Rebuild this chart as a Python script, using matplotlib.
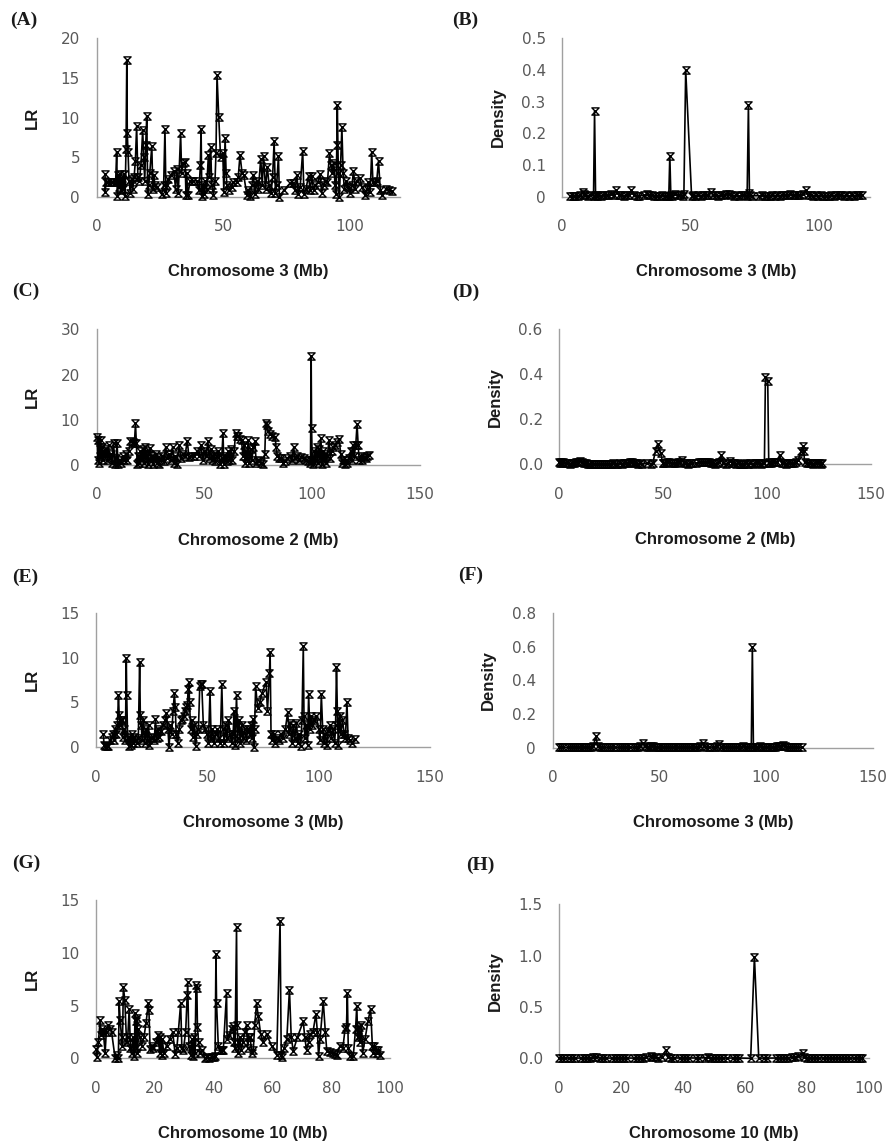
import matplotlib
matplotlib.use('Agg')
import matplotlib.pyplot as plt
from matplotlib.path import Path

plt.rcParams['font.family'] = ['DejaVu Sans']

# ---------------- data ----------------
# (A) LR, chromosome 3
a_x = [3.3, 3.4, 3.6, 4.5, 5.5, 6.5, 7.5, 7.9, 8.2, 8.5,
       8.9, 9.3, 9.6, 10.0, 10.4, 10.8, 11.2, 11.6, 11.9, 12.1,
       12.4, 12.8, 13.3, 13.8, 14.3, 14.8, 15.3, 15.8, 16.3, 16.9,
       17.5, 18.2, 18.6, 19.0, 19.4, 19.8, 20.2, 20.6, 21.0, 21.8,
       22.2, 22.6, 23.0, 23.8, 25.7, 26.5, 27.0, 27.4, 28.0, 28.4,
       29.5, 30.5, 31.2, 31.7, 32.3, 33.2, 33.6, 34.2, 35.0, 35.3,
       35.6, 36.0, 37.0, 38.0, 39.6, 40.5, 41.0, 41.3, 41.6, 42.0,
       42.5, 43.0, 43.5, 44.2, 44.6, 45.1, 45.5, 46.2, 46.8, 47.2,
       47.6, 48.3, 49.0, 49.9, 50.3, 50.8, 51.2, 51.5, 52.2, 53.4,
       54.0, 55.4, 56.0, 56.7, 57.5, 58.2, 59.4, 60.0, 60.7, 61.4,
       62.0, 62.6, 63.3, 64.0, 64.9, 65.5, 66.0, 66.8, 67.5, 68.2,
       69.0, 69.6, 70.2, 70.7, 71.2, 71.9, 72.3, 74.0, 76.5, 77.8,
       78.5, 79.2, 79.8, 80.5, 81.5, 82.0, 82.8, 83.8, 84.5, 85.1,
       85.8, 86.5, 87.5, 88.4, 89.0, 89.8, 90.5, 91.3, 92.1, 92.6,
       93.2, 93.8, 94.3, 94.7, 95.0, 95.2, 95.6, 96.0, 96.5, 97.0,
       97.5, 98.0, 98.8, 99.5, 100.3, 101.0, 101.6, 102.3, 103.0, 104.0,
       105.0, 106.2, 107.0, 107.5, 108.2, 108.8, 109.3, 110.0, 110.8, 111.5,
       112.2, 113.0, 114.5, 115.5, 116.8]
a_y = [2.9, 0.6, 1.8, 1.9, 1.8, 1.8, 1.9, 5.7, 0.1, 2.8,
       1.2, 2.9, 0.8, 2.4, 1.0, 2.9, 0.1, 6.0, 17.3, 8.0,
       5.6, 2.0, 0.5, 2.2, 1.0, 2.5, 4.5, 8.9, 2.5, 2.0,
       4.0, 8.4, 5.0, 2.0, 6.5, 10.2, 0.3, 1.5, 3.0, 6.4,
       1.0, 2.8, 1.5, 1.2, 0.3, 1.5, 8.6, 0.5, 1.5, 2.2,
       2.8, 3.3, 1.0, 3.5, 0.5, 8.0, 3.0, 4.2, 4.4, 0.2,
       3.0, 0.2, 2.0, 2.0, 2.0, 0.8, 4.0, 8.6, 0.1, 1.5,
       0.3, 2.0, 1.0, 5.3, 2.5, 6.3, 1.5, 0.2, 2.0, 5.5,
       15.4, 10.0, 5.0, 5.5, 0.6, 7.4, 3.0, 1.5, 0.8, 1.2,
       1.9, 1.9, 2.5, 5.3, 3.0, 2.7, 0.2, 0.8, 0.1, 1.5,
       2.8, 0.3, 2.0, 1.0, 4.8, 1.5, 5.1, 1.0, 3.8, 1.5,
       0.5, 2.5, 7.0, 0.5, 1.5, 5.1, 0.0, 0.8, 1.7, 1.7,
       0.8, 2.8, 0.3, 1.2, 5.8, 0.3, 1.0, 2.6, 0.8, 2.6,
       0.8, 1.5, 1.8, 2.9, 0.5, 1.5, 2.0, 1.8, 5.5, 4.0,
       3.0, 4.2, 1.5, 0.3, 6.5, 11.6, 3.0, 0.0, 4.0, 8.8,
       3.0, 1.0, 2.0, 1.2, 0.5, 1.5, 3.2, 1.0, 2.0, 2.4,
       1.2, 0.2, 1.0, 1.9, 0.6, 5.6, 1.8, 1.8, 2.0, 4.5,
       0.8, 0.2, 1.0, 0.9, 0.7]

# (B) Density, chromosome 3
b_x = [3, 4, 5, 6, 7, 8, 8.5, 9, 10, 11,
       12.2, 12.6, 13.0, 13.5, 14, 15, 16, 17, 18, 19,
       20, 21, 22, 23, 24, 25, 26, 27, 28, 29,
       30, 32, 33, 34, 35, 36, 37, 38, 39, 40,
       41, 41.6, 42, 42.4, 43, 44, 45, 46, 47, 47.5,
       48.2, 50.5, 51, 52, 53, 54, 55, 56, 57, 58,
       59, 60, 61, 62, 63, 64, 65, 66, 67, 68,
       69, 70, 71, 72.2, 72.7, 73.1, 73.5, 74, 77, 78,
       79, 80, 81, 82, 83, 84, 85, 86, 87, 88,
       89, 90, 91, 92, 93, 94, 95, 96, 97, 98,
       99, 100, 101, 102, 103, 104, 105, 106, 107, 108,
       109, 110, 111, 112, 113, 114, 115, 116, 117]
b_y = [0.003, 0.002, 0.003, 0.002, 0.004, 0.015, 0.010, 0.005, 0.003, 0.004,
       0.003, 0.270, 0.004, 0.003, 0.004, 0.003, 0.005, 0.004, 0.006, 0.008,
       0.005, 0.020, 0.006, 0.004, 0.003, 0.004, 0.005, 0.020, 0.004, 0.003,
       0.003, 0.004, 0.008, 0.005, 0.004, 0.003, 0.002, 0.003, 0.004, 0.003,
       0.002, 0.003, 0.130, 0.004, 0.003, 0.008, 0.006, 0.004, 0.003, 0.010,
       0.400, 0.003, 0.004, 0.003, 0.004, 0.003, 0.005, 0.004, 0.006, 0.015,
       0.005, 0.004, 0.003, 0.004, 0.006, 0.008, 0.007, 0.004, 0.003, 0.004,
       0.003, 0.004, 0.005, 0.003, 0.290, 0.012, 0.004, 0.003, 0.003, 0.004,
       0.003, 0.002, 0.003, 0.004, 0.003, 0.004, 0.003, 0.005, 0.004, 0.006,
       0.007, 0.006, 0.005, 0.004, 0.006, 0.008, 0.020, 0.006, 0.004, 0.003,
       0.004, 0.003, 0.004, 0.003, 0.002, 0.003, 0.004, 0.003, 0.004, 0.005,
       0.004, 0.003, 0.004, 0.003, 0.004, 0.003, 0.004, 0.005, 0.006]

# (C) LR, chromosome 2
c_x = [0.2, 0.5, 0.8, 1.1, 1.4, 1.8, 2.2, 2.6, 3.0, 3.5,
       4.0, 4.5, 5.0, 5.5, 6.0, 6.5, 7.0, 7.8, 8.5, 9.0,
       9.4, 10.0, 10.8, 11.5, 12.2, 12.8, 13.5, 14.2, 14.8, 15.6,
       16.9, 17.5, 18.0, 18.4, 18.8, 19.3, 19.8, 20.3, 20.8, 21.3,
       21.8, 22.3, 22.8, 23.3, 23.8, 24.3, 24.8, 25.3, 25.8, 26.3,
       26.8, 27.3, 27.8, 28.3, 29.0, 29.7, 30.5, 31.2, 32.0, 32.8,
       33.5, 34.3, 35.2, 35.8, 36.5, 37.2, 38.3, 39.0, 40.0, 41.0,
       42.0, 42.8, 43.8, 45.3, 46.5, 47.5, 48.4, 49.2, 50.0, 50.8,
       51.6, 52.2, 52.8, 53.5, 54.2, 55.0, 55.8, 56.5, 57.3, 58.0,
       58.6, 59.0, 59.6, 60.3, 61.0, 61.6, 62.2, 63.0, 63.8, 64.4,
       65.0, 65.6, 66.4, 67.2, 67.8, 68.4, 68.8, 69.3, 69.8, 70.3,
       70.8, 71.4, 72.0, 72.7, 73.4, 74.0, 74.8, 75.5, 76.3, 77.3,
       78.0, 78.4, 78.8, 79.5, 80.5, 81.5, 82.8, 83.2, 83.8, 84.5,
       85.5, 86.5, 87.5, 88.5, 89.5, 90.5, 91.4, 92.0, 93.0, 94.0,
       95.0, 96.0, 97.0, 98.0, 98.8, 99.2, 99.5, 99.7, 100.0, 100.5,
       101.0, 101.5, 102.0, 102.5, 103.0, 103.5, 104.0, 104.5, 105.0, 105.5,
       106.0, 106.5, 107.0, 107.8, 108.4, 109.0, 109.8, 110.6, 111.5, 112.5,
       113.2, 113.8, 114.4, 115.0, 115.6, 116.2, 117.0, 117.8, 118.3, 118.8,
       119.5, 120.2, 120.8, 121.3, 121.8, 122.5, 123.2, 124.0, 124.8, 125.5,
       126.5]
c_y = [6.3, 1.0, 5.5, 0.5, 3.5, 5.5, 2.0, 4.0, 1.2, 3.0,
       2.0, 3.5, 1.0, 4.4, 1.5, 2.5, 0.5, 4.8, 0.3, 1.5,
       4.8, 0.3, 1.0, 0.5, 2.0, 1.0, 2.5, 1.2, 3.0, 5.2,
       5.0, 4.8, 9.2, 4.8, 0.3, 2.0, 0.5, 3.0, 1.0, 3.5,
       0.5, 4.0, 1.5, 3.0, 0.3, 2.5, 3.8, 0.8, 2.0, 0.3,
       1.5, 2.5, 0.5, 1.8, 0.3, 1.2, 2.0, 0.8, 4.0, 1.5,
       2.5, 1.0, 4.0, 0.5, 2.0, 0.3, 4.4, 1.5, 2.5, 2.0,
       5.4, 1.8, 2.0, 2.0, 3.0, 2.0, 4.4, 1.0, 3.0, 2.0,
       5.2, 1.5, 3.5, 1.0, 2.5, 0.8, 2.0, 3.0, 0.3, 1.5,
       7.0, 0.2, 2.0, 0.8, 3.0, 1.0, 3.5, 1.0, 3.0, 7.0,
       6.5, 6.4, 5.8, 5.5, 2.0, 4.5, 0.5, 3.0, 1.5, 5.5,
       0.5, 3.5, 1.0, 4.0, 5.2, 0.5, 1.0, 0.8, 0.5, 0.2,
       2.5, 9.2, 8.8, 7.5, 6.8, 6.5, 6.3, 4.0, 2.0, 1.5,
       1.5, 0.5, 0.8, 1.5, 2.0, 1.0, 3.9, 1.5, 2.0, 1.0,
       1.8, 1.5, 1.2, 0.8, 0.5, 1.0, 24.1, 8.1, 1.0, 0.2,
       3.0, 1.0, 4.0, 0.5, 3.5, 1.5, 5.9, 0.3, 3.0, 1.0,
       2.5, 0.5, 2.0, 5.5, 1.5, 3.0, 4.0, 4.5, 5.0, 5.7,
       2.5, 0.5, 1.0, 0.3, 1.0, 0.5, 1.5, 3.0, 1.0, 4.4,
       2.0, 4.5, 9.0, 4.5, 1.0, 2.0, 1.0, 1.8, 1.5, 2.0,
       2.2]

# (D) Density, chromosome 2
d_x = [0, 0.5, 1, 1.5, 2, 3, 4, 5, 6, 7,
       8, 9, 10, 11, 12, 13, 14, 15, 16, 17,
       18, 19, 20, 21, 22, 23, 24, 25, 26, 27,
       28, 29, 30, 31, 32, 33, 34, 35, 36, 37,
       38, 39, 40, 42, 44, 45, 46.3, 47.3, 48.8, 49.8,
       50, 51, 52, 53, 54, 55, 56, 57, 58, 59,
       60, 61, 62, 63, 64, 66, 67, 68, 69, 70,
       71, 72, 73, 74, 75, 76, 77, 78, 79, 80,
       81, 82, 83, 84, 85, 86, 87, 88, 89, 90,
       91, 92, 93, 94, 95, 96, 97, 98, 98.7, 99.2,
       100.3, 100.8, 101, 102, 103, 104, 105, 106, 107, 108,
       109, 110, 111, 112, 113, 114, 115, 116.5, 117.2, 117.7,
       118, 119, 120, 121, 122, 123, 124, 125, 126, 126.5]
d_y = [0.010, 0.004, 0.012, 0.005, 0.008, 0.005, 0.004, 0.003, 0.004, 0.006,
       0.008, 0.012, 0.015, 0.008, 0.005, 0.004, 0.003, 0.003, 0.002, 0.003,
       0.002, 0.003, 0.002, 0.003, 0.002, 0.003, 0.002, 0.003, 0.004, 0.003,
       0.003, 0.004, 0.003, 0.004, 0.005, 0.006, 0.010, 0.008, 0.005, 0.004,
       0.003, 0.004, 0.003, 0.004, 0.003, 0.005, 0.060, 0.090, 0.050, 0.005,
       0.004, 0.006, 0.008, 0.010, 0.005, 0.004, 0.006, 0.008, 0.012, 0.020,
       0.005, 0.004, 0.003, 0.004, 0.005, 0.006, 0.008, 0.010, 0.012, 0.010,
       0.008, 0.010, 0.006, 0.004, 0.003, 0.005, 0.012, 0.040, 0.005, 0.003,
       0.004, 0.015, 0.005, 0.004, 0.003, 0.004, 0.003, 0.002, 0.003, 0.004,
       0.003, 0.004, 0.003, 0.004, 0.005, 0.004, 0.003, 0.005, 0.006, 0.390,
       0.370, 0.005, 0.008, 0.006, 0.010, 0.008, 0.012, 0.040, 0.006, 0.004,
       0.003, 0.004, 0.005, 0.004, 0.006, 0.010, 0.020, 0.060, 0.080, 0.060,
       0.010, 0.006, 0.005, 0.004, 0.003, 0.004, 0.005, 0.004, 0.003, 0.004]

# (E) LR, chromosome 3
e_x = [3.3, 3.6, 4.0, 4.8, 5.6, 6.5, 7.2, 7.8, 8.2, 8.6,
       9.2, 9.6, 10.1, 10.4, 10.8, 11.2, 11.6, 12.0, 12.6, 13.2,
       13.6, 13.8, 14.2, 14.6, 15.0, 15.5, 16.0, 16.5, 16.9, 17.5,
       18.2, 19.0, 19.6, 19.9, 20.3, 20.7, 21.2, 21.8, 22.5, 23.0,
       23.6, 24.0, 24.8, 25.5, 26.2, 26.7, 27.2, 27.8, 28.4, 29.0,
       30.0, 31.0, 31.6, 32.3, 32.8, 33.4, 34.0, 34.6, 35.2, 35.6,
       36.0, 36.7, 37.3, 38.0, 38.7, 39.4, 40.0, 40.5, 41.0, 41.4,
       41.7, 42.0, 42.5, 43.0, 43.5, 44.0, 44.7, 45.3, 46.0, 46.6,
       47.0, 47.5, 48.2, 49.0, 49.8, 50.5, 51.2, 51.7, 52.3, 53.0,
       53.8, 54.5, 55.2, 55.8, 56.5, 57.0, 57.6, 58.2, 58.8, 59.5,
       60.2, 61.0, 61.6, 62.0, 62.5, 63.1, 63.6, 64.2, 64.8, 65.4,
       66.0, 66.8, 67.5, 68.2, 69.0, 69.6, 70.0, 70.5, 70.8, 71.2,
       71.7, 72.6, 73.5, 74.5, 76.4, 77.0, 77.9, 78.2, 78.6, 79.2,
       79.8, 80.5, 81.2, 82.0, 83.0, 84.0, 85.0, 86.1, 86.7, 87.3,
       88.0, 88.6, 89.3, 90.0, 90.6, 91.3, 91.9, 92.5, 93.1, 93.4,
       93.8, 94.4, 95.0, 95.5, 96.0, 96.6, 97.2, 98.0, 99.0, 100.0,
       100.6, 101.2, 101.8, 102.4, 103.0, 103.7, 104.3, 105.0, 105.7, 106.4,
       107.2, 107.6, 108.0, 108.4, 108.8, 109.4, 110.0, 110.7, 111.5, 112.0,
       112.7, 113.2, 114.0, 115.0, 116.3]
e_y = [1.5, 0.3, 0.1, 0.1, 0.2, 0.8, 1.2, 1.5, 0.8, 2.0,
       1.5, 2.5, 5.8, 3.6, 2.5, 3.0, 3.0, 1.2, 2.0, 0.8,
       9.9, 5.8, 1.0, 0.2, 1.2, 0.3, 1.5, 0.5, 1.2, 0.8,
       0.5, 1.0, 9.5, 3.6, 2.5, 0.8, 3.0, 0.5, 2.0, 0.8,
       2.5, 0.3, 1.0, 1.2, 0.8, 3.2, 1.0, 2.0, 1.2, 1.8,
       2.5, 3.0, 3.8, 2.0, 0.0, 2.5, 1.5, 4.0, 6.0, 4.5,
       1.5, 0.5, 2.0, 3.0, 3.2, 3.5, 4.0, 4.5, 4.7, 6.5,
       7.3, 5.0, 2.0, 3.0, 1.2, 2.5, 0.2, 1.5, 2.0, 6.8,
       7.1, 7.0, 2.5, 2.0, 1.5, 0.5, 6.3, 1.0, 2.0, 0.5,
       1.5, 2.0, 1.0, 0.5, 7.0, 2.0, 0.5, 2.5, 1.0, 3.0,
       1.5, 0.5, 1.5, 4.1, 0.3, 5.8, 1.0, 3.0, 0.5, 2.5,
       1.0, 2.0, 0.8, 2.0, 1.5, 2.5, 1.0, 3.2, 0.0, 2.0,
       6.8, 4.4, 5.0, 6.0, 7.3, 4.0, 8.3, 10.6, 1.5, 0.8,
       1.5, 0.5, 1.0, 0.8, 1.5, 1.0, 2.0, 3.9, 1.5, 2.7,
       0.5, 2.5, 1.0, 2.7, 0.5, 1.5, 0.2, 3.0, 11.3, 3.5,
       1.0, 2.5, 0.3, 5.9, 2.0, 3.5, 2.5, 3.0, 3.5, 2.0,
       0.8, 5.9, 2.0, 0.5, 1.5, 0.3, 1.8, 2.5, 1.0, 2.0,
       0.5, 2.5, 9.0, 4.0, 0.3, 3.5, 1.5, 3.0, 1.5, 1.0,
       5.1, 1.0, 0.8, 0.5, 0.9]

# (F) Density, chromosome 3
f_x = [3, 4, 5, 7, 8, 9, 10, 11, 12, 13,
       14, 15, 16, 17, 18, 19, 20.3, 21, 22, 23,
       24, 26, 27, 28, 29, 31, 32, 33, 34, 35,
       36, 38, 39, 40, 41, 42.1, 43, 44, 45, 46,
       47, 48, 49, 50, 51, 52, 53, 54, 55, 56,
       57, 58, 59, 60, 61, 62, 63, 64, 65, 66,
       67, 68, 69, 70.3, 71, 72, 73, 75, 76, 77,
       77.9, 79, 80, 81, 82, 83, 84, 85, 86, 87,
       88, 89, 90, 91, 92, 93, 93.5, 94, 95, 96,
       97, 98, 99, 100, 101, 102, 103, 104, 105, 106,
       107, 108, 109, 110, 111, 112, 113, 114, 115, 116.6]
f_y = [0.002, 0.002, 0.002, 0.002, 0.002, 0.003, 0.002, 0.003, 0.002, 0.003,
       0.002, 0.003, 0.002, 0.003, 0.004, 0.010, 0.070, 0.008, 0.004, 0.003,
       0.002, 0.002, 0.003, 0.002, 0.003, 0.002, 0.002, 0.003, 0.002, 0.003,
       0.002, 0.003, 0.004, 0.006, 0.010, 0.030, 0.010, 0.005, 0.006, 0.008,
       0.012, 0.006, 0.004, 0.003, 0.002, 0.003, 0.002, 0.003, 0.002, 0.002,
       0.003, 0.002, 0.003, 0.002, 0.003, 0.002, 0.002, 0.003, 0.002, 0.003,
       0.004, 0.005, 0.008, 0.030, 0.008, 0.005, 0.004, 0.003, 0.005, 0.008,
       0.020, 0.005, 0.004, 0.003, 0.004, 0.003, 0.004, 0.005, 0.004, 0.005,
       0.006, 0.008, 0.006, 0.005, 0.004, 0.005, 0.600, 0.005, 0.004, 0.006,
       0.008, 0.006, 0.004, 0.003, 0.005, 0.004, 0.003, 0.006, 0.008, 0.010,
       0.012, 0.015, 0.010, 0.006, 0.004, 0.003, 0.004, 0.003, 0.002, 0.003]

# (G) LR, chromosome 10
g_x = [0.0, 0.3, 0.8, 1.4, 1.7, 2.1, 2.5, 3.1, 3.5, 4.2,
       4.7, 5.3, 6.5, 7.0, 7.6, 7.9, 8.2, 8.7, 9.0, 9.3,
       9.8, 10.4, 10.8, 11.3, 11.7, 12.1, 12.5, 13.0, 13.3, 13.5,
       13.7, 13.9, 14.1, 14.4, 15.0, 15.5, 16.3, 17.0, 17.8, 18.0,
       18.4, 19.0, 19.5, 20.3, 21.2, 21.6, 21.9, 22.3, 22.6, 23.0,
       24.0, 25.0, 26.1, 26.9, 27.5, 28.0, 28.8, 29.2, 29.7, 30.5,
       31.0, 31.2, 31.6, 32.2, 32.6, 33.0, 33.4, 33.7, 34.0, 34.3,
       34.5, 34.9, 35.4, 36.2, 37.0, 37.8, 38.6, 39.3, 40.0, 40.5,
       40.8, 41.0, 41.6, 42.2, 42.7, 43.3, 44.4, 44.6, 45.3, 46.1,
       46.6, 47.0, 47.3, 47.8, 48.0, 48.4, 48.9, 49.4, 50.0, 50.6,
       51.2, 51.6, 52.0, 52.4, 53.0, 53.5, 54.0, 54.6, 55.2, 56.0,
       56.8, 58.0, 59.7, 61.5, 62.6, 63.0, 63.2, 64.0, 64.9, 65.8,
       66.4, 67.1, 68.5, 70.5, 71.0, 71.6, 72.3, 72.8, 73.8, 74.8,
       75.3, 75.7, 76.2, 77.3, 78.0, 78.5, 79.5, 80.5, 81.3, 81.9,
       83.0, 84.0, 84.7, 85.2, 85.5, 85.8, 86.4, 87.5, 88.3, 88.7,
       89.0, 89.4, 89.8, 90.3, 90.7, 91.5, 92.5, 93.4, 94.0, 94.3,
       94.7, 95.2, 95.6, 96.0, 96.6]
g_y = [0.9, 0.1, 1.5, 3.6, 2.2, 2.8, 2.5, 0.5, 2.5, 3.2,
       2.8, 2.5, 0.0, 0.3, 0.0, 5.4, 3.6, 2.0, 1.2, 6.8,
       5.5, 1.5, 2.0, 4.7, 1.0, 0.5, 2.0, 0.2, 4.3, 3.5,
       1.0, 3.8, 0.5, 2.8, 2.0, 1.2, 2.0, 3.3, 5.2, 4.6,
       0.9, 1.2, 1.0, 1.5, 2.2, 0.5, 2.0, 0.3, 1.8, 0.5,
       1.2, 1.8, 2.5, 0.4, 1.0, 2.5, 5.2, 1.0, 0.8, 2.5,
       6.0, 7.2, 1.2, 0.3, 1.8, 0.2, 2.0, 0.5, 6.9, 6.7,
       3.0, 1.5, 0.5, 0.8, 0.0, 0.1, 0.0, 0.1, 0.1, 0.2,
       9.9, 5.2, 1.2, 0.8, 0.8, 0.8, 6.2, 1.8, 2.2, 2.8,
       3.1, 1.5, 1.0, 12.4, 3.2, 0.5, 2.0, 0.8, 1.5, 2.5,
       3.2, 1.0, 2.0, 2.0, 0.5, 0.8, 3.2, 5.2, 4.0, 2.3,
       1.5, 2.3, 1.2, 0.3, 13.0, 0.3, 0.1, 1.0, 1.8, 6.5,
       2.0, 0.7, 2.0, 3.5, 2.0, 0.8, 1.5, 2.3, 2.5, 4.2,
       2.5, 0.2, 1.8, 5.4, 2.5, 0.7, 0.6, 0.5, 0.4, 0.3,
       1.2, 1.0, 2.8, 3.0, 6.2, 1.0, 0.2, 0.2, 2.8, 5.0,
       2.0, 3.0, 1.5, 3.2, 0.5, 1.8, 3.5, 4.7, 1.2, 0.5,
       1.2, 0.8, 0.5, 0.8, 0.3]

# (H) Density, chromosome 10
h_x = [0, 1, 2, 3, 4, 5, 7, 8, 9, 10,
       11, 12, 13, 14, 15, 17, 18, 19, 20, 21,
       22, 24, 25, 26, 27, 28, 29.5, 30, 31, 32,
       33, 34.4, 35, 36, 37, 39, 40, 41, 42, 44,
       45, 47, 48, 49, 50, 51, 52, 53, 54, 56,
       57, 58, 61.8, 63.0, 64.4, 66, 67, 70, 71, 72,
       73, 74, 75, 76, 77, 78.6, 79, 80, 81, 82,
       83, 84, 85, 86, 87, 88, 89, 90, 91, 92,
       93, 94, 95, 96, 97, 97.8]
h_y = [0.003, 0.002, 0.003, 0.002, 0.003, 0.002, 0.003, 0.004, 0.005, 0.006,
       0.008, 0.010, 0.006, 0.004, 0.003, 0.002, 0.003, 0.002, 0.003, 0.002,
       0.003, 0.002, 0.003, 0.004, 0.006, 0.010, 0.020, 0.010, 0.008, 0.006,
       0.010, 0.080, 0.010, 0.006, 0.004, 0.003, 0.004, 0.005, 0.004, 0.003,
       0.004, 0.006, 0.008, 0.005, 0.004, 0.003, 0.004, 0.003, 0.002, 0.003,
       0.002, 0.003, 0.000, 0.990, 0.000, 0.003, 0.002, 0.003, 0.002, 0.003,
       0.004, 0.006, 0.008, 0.010, 0.020, 0.050, 0.015, 0.006, 0.004, 0.003,
       0.004, 0.003, 0.004, 0.005, 0.004, 0.003, 0.004, 0.003, 0.002, 0.003,
       0.002, 0.003, 0.002, 0.003, 0.002, 0.003]

panel_letters = ['(A)', '(B)', '(C)', '(D)', '(E)', '(F)', '(G)', '(H)']
x_labels = ['Chromosome 3 (Mb)', 'Chromosome 3 (Mb)', 'Chromosome 2 (Mb)', 'Chromosome 2 (Mb)',
            'Chromosome 3 (Mb)', 'Chromosome 3 (Mb)', 'Chromosome 10 (Mb)', 'Chromosome 10 (Mb)']
y_labels = ['LR', 'Density', 'LR', 'Density', 'LR', 'Density', 'LR', 'Density']
x_limits = [120, 120, 150, 150, 150, 150, 100, 100]
x_ticks = [[0, 50, 100], [0, 50, 100], [0, 50, 100, 150], [0, 50, 100, 150],
           [0, 50, 100, 150], [0, 50, 100, 150], [0, 20, 40, 60, 80, 100], [0, 20, 40, 60, 80, 100]]
y_ticks = [[0, 5, 10, 15, 20], [0, 0.1, 0.2, 0.3, 0.4, 0.5], [0, 10, 20, 30], [0, 0.2, 0.4, 0.6],
           [0, 5, 10, 15], [0, 0.2, 0.4, 0.6, 0.8], [0, 5, 10, 15], [0, 0.5, 1.0, 1.5]]
y_tick_labels = [['0', '5', '10', '15', '20'], ['0', '0.1', '0.2', '0.3', '0.4', '0.5'],
                 ['0', '10', '20', '30'], ['0.0', '0.2', '0.4', '0.6'],
                 ['0', '5', '10', '15'], ['0', '0.2', '0.4', '0.6', '0.8'],
                 ['0', '5', '10', '15'], ['0.0', '0.5', '1.0', '1.5']]
series_x = [a_x, b_x, c_x, d_x, e_x, f_x, g_x, h_x]
series_y = [a_y, b_y, c_y, d_y, e_y, f_y, g_y, h_y]

# ---------------- layout (pixels) ----------------
W, H = 889, 1144
axes_px = [(96.7, 400, 38.3, 196.7), (562.3, 869.5, 38.3, 196.7),
           (96.7, 420, 329.3, 465), (559.3, 871, 329.3, 464.3),
           (96, 430, 612.7, 747.3), (552.7, 873, 613.3, 747.7),
           (96, 390, 900, 1058.3), (559.3, 869, 904.3, 1058.3)]
letter_px = [(10, 20), (452, 20), (12, 291), (452, 292), (12, 577), (458, 575), (12, 863), (466, 865)]

hourglass = Path([(-1, 1), (1, 1), (-1, -1), (1, -1), (-1, 1)],
                 [Path.MOVETO, Path.LINETO, Path.LINETO, Path.LINETO, Path.CLOSEPOLY])

label_font = ['Liberation Sans', 'DejaVu Sans']

fig = plt.figure(figsize=(W / 100, H / 100), dpi=100)
fig.patch.set_facecolor('white')

for i in range(8):
    l, r, t, b = axes_px[i]
    wpx, hpx = r - l, b - t
    ax = fig.add_axes([l / W, 1 - b / H, wpx / W, hpx / H])
    ax.plot(series_x[i], series_y[i], color='#000000', lw=1.2, marker=hourglass,
            ms=5.2, mfc='none', mec='#000000', mew=1.0, clip_on=False, zorder=3)
    ax.set_xlim(0, x_limits[i])
    ax.set_ylim(0, y_ticks[i][-1])
    ax.set_xticks(x_ticks[i])
    ax.set_yticks(y_ticks[i])
    ax.set_yticklabels(y_tick_labels[i])
    for s in ['top', 'right']:
        ax.spines[s].set_visible(False)
    for s in ['left', 'bottom']:
        ax.spines[s].set_color('#a0a0a0')
        ax.spines[s].set_linewidth(1.0)
    ax.tick_params(length=0, labelsize=11, labelcolor='#595959')
    ax.tick_params(axis='x', pad=16)
    ax.tick_params(axis='y', pad=12)
    ax.set_xlabel(x_labels[i], fontsize=12, fontweight='bold', color='#1a1a1a',
                  fontfamily=label_font)
    ax.xaxis.set_label_coords(0.5, -75 / hpx)
    ax.xaxis.label.set_va('center')
    ax.set_ylabel(y_labels[i], fontsize=12, fontweight='bold', color='#1a1a1a',
                  fontfamily=label_font)
    ax.yaxis.set_label_coords(-64 / wpx, 0.5)
    ax.yaxis.label.set_va('center')
    lx, ly = letter_px[i]
    fig.text(lx / W, 1 - ly / H, panel_letters[i], fontfamily=['Liberation Serif', 'DejaVu Serif'],
             fontweight='bold', fontsize=14, ha='left', va='center', color='#1a1a1a')

fig.savefig('out.png', dpi=100, facecolor='white')
